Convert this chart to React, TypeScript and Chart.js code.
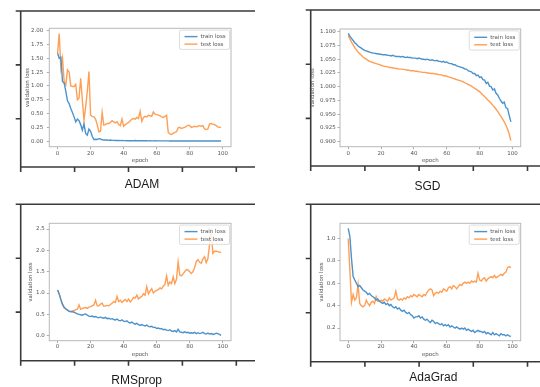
import React, { useEffect, useRef } from "react";
import { Chart, registerables } from "chart.js";

Chart.register(...registerables);

// ---------- data ----------
const epochs: number[] = Array.from({ length: 100 }, (_, i) => i);
const xTickValues = [0, 20, 40, 60, 80, 100];
const seriesLabels = ["train loss", "test loss"];

const adamTrain = [
  1.59, 1.5, 1.52, 1.08, 1.05, 0.9, 0.73, 0.68, 0.59, 0.52,
  0.44, 0.35, 0.4, 0.37, 0.3, 0.2, 0.31, 0.14, 0.11, 0.22,
  0.18, 0.09, 0.03, 0.035, 0.03, 0.045, 0.04, 0.025, 0.02, 0.02,
  0.02, 0.015, 0.02, 0.015, 0.015, 0.012, 0.012, 0.011, 0.01, 0.012,
  0.01, 0.01, 0.009, 0.01, 0.009, 0.008, 0.009, 0.012, 0.009, 0.008,
  0.008, 0.007, 0.008, 0.007, 0.007, 0.006, 0.007, 0.006, 0.006, 0.007,
  0.006, 0.005, 0.006, 0.005, 0.005, 0.005, 0.006, 0.005, 0.004, 0.005,
  0.004, 0.004, 0.005, 0.004, 0.004, 0.004, 0.003, 0.004, 0.003, 0.003,
  0.004, 0.003, 0.003, 0.003, 0.003, 0.003, 0.002, 0.003, 0.002, 0.003,
  0.002, 0.002, 0.003, 0.002, 0.002, 0.002, 0.002, 0.002, 0.002, 0.002,
];
const adamTest = [
  1.59, 1.95, 1.32, 1.5, 1.08, 1.02, 1.29, 1.25, 1.0, 0.99,
  0.99, 1.03, 0.75, 0.78, 1.14, 0.75, 0.38, 0.62, 0.9, 1.26,
  0.47, 0.45, 0.44, 0.4, 0.3, 0.17, 0.18, 0.52, 0.29, 0.3,
  0.32, 0.32, 0.34, 0.37, 0.35, 0.33, 0.35, 0.3, 0.28, 0.4,
  0.27, 0.3, 0.32, 0.34, 0.37, 0.4, 0.41, 0.4, 0.43, 0.41,
  0.54, 0.36, 0.43, 0.45, 0.44, 0.47, 0.46, 0.45, 0.53, 0.49,
  0.48, 0.47, 0.46, 0.44, 0.43, 0.45, 0.47, 0.16, 0.13, 0.12,
  0.14, 0.16, 0.17, 0.24, 0.25, 0.23, 0.24, 0.25, 0.27, 0.29,
  0.28, 0.25, 0.26, 0.27, 0.26, 0.27, 0.28, 0.27, 0.28, 0.22,
  0.21, 0.22, 0.31, 0.32, 0.31, 0.3, 0.28, 0.26, 0.25, 0.25,
];

const sgdTrain = [
  1.097, 1.092, 1.088, 1.084, 1.08, 1.077, 1.074, 1.072, 1.07, 1.068,
  1.066, 1.065, 1.064, 1.063, 1.062, 1.061, 1.061, 1.06, 1.06, 1.059,
  1.059, 1.058, 1.058, 1.058, 1.057, 1.057, 1.056, 1.057, 1.056, 1.055,
  1.055, 1.055, 1.054, 1.055, 1.054, 1.053, 1.054, 1.053, 1.053, 1.052,
  1.052, 1.052, 1.051, 1.052, 1.051, 1.05, 1.05, 1.049, 1.05, 1.049,
  1.048, 1.049, 1.048, 1.047, 1.048, 1.046, 1.046, 1.045, 1.046, 1.044,
  1.045, 1.043, 1.042, 1.042, 1.04, 1.04, 1.038, 1.037, 1.036, 1.035,
  1.034, 1.032, 1.032, 1.029, 1.028, 1.027, 1.024, 1.024, 1.02, 1.021,
  1.017, 1.018, 1.013, 1.012, 1.006, 1.008, 1.001, 1.0, 0.994, 0.996,
  0.988, 0.985, 0.979, 0.974, 0.97, 0.972, 0.962, 0.96, 0.948, 0.936,
];
const sgdTest = [
  1.093, 1.087, 1.081, 1.076, 1.071, 1.067, 1.063, 1.06, 1.057, 1.054,
  1.052, 1.05, 1.048, 1.046, 1.045, 1.044, 1.043, 1.042, 1.041, 1.04,
  1.039, 1.038, 1.037, 1.037, 1.036, 1.035, 1.035, 1.034, 1.034, 1.033,
  1.033, 1.032, 1.032, 1.032, 1.031, 1.031, 1.03, 1.03, 1.029, 1.029,
  1.029, 1.028, 1.028, 1.027, 1.027, 1.026, 1.026, 1.026, 1.025, 1.025,
  1.024, 1.024, 1.024, 1.023, 1.023, 1.022, 1.022, 1.021, 1.02, 1.02,
  1.019, 1.018, 1.017, 1.016, 1.015, 1.014, 1.013, 1.012, 1.011, 1.01,
  1.009, 1.007, 1.006, 1.004, 1.003, 1.001, 0.999, 0.997, 0.995, 0.993,
  0.991, 0.988, 0.985, 0.982, 0.979, 0.976, 0.973, 0.97, 0.966, 0.963,
  0.959, 0.955, 0.95, 0.946, 0.941, 0.936, 0.93, 0.923, 0.914, 0.902,
];

const rmsTrain = [
  1.07, 0.98, 0.85, 0.74, 0.67, 0.63, 0.6, 0.57, 0.56, 0.56,
  0.55, 0.53, 0.51, 0.5, 0.49, 0.48, 0.5, 0.51, 0.48, 0.46,
  0.45, 0.46, 0.44, 0.45, 0.43, 0.42, 0.44, 0.42, 0.41, 0.43,
  0.4, 0.41, 0.39, 0.4, 0.38, 0.37, 0.39, 0.36, 0.35, 0.37,
  0.34, 0.33, 0.35, 0.31, 0.3, 0.32, 0.29, 0.27, 0.29, 0.26,
  0.24, 0.26, 0.24, 0.23, 0.25, 0.22, 0.21, 0.22, 0.19, 0.2,
  0.17, 0.18, 0.16, 0.17, 0.14, 0.15, 0.13, 0.12, 0.14, 0.11,
  0.1, 0.12, 0.09, 0.15, 0.09, 0.08, 0.07, 0.09, 0.07, 0.08,
  0.06, 0.07, 0.06, 0.08, 0.05, 0.07, 0.05, 0.06, 0.08, 0.05,
  0.04, 0.06, 0.04, 0.05, 0.03, 0.04, 0.06, 0.05, 0.03, 0.01,
];
const rmsTest = [
  1.07, 0.97, 0.84, 0.72, 0.65, 0.62, 0.6, 0.58, 0.57, 0.58,
  0.59, 0.61, 0.62, 0.72, 0.62, 0.64, 0.65, 0.66, 0.64, 0.67,
  0.68, 0.7, 0.72, 0.83, 0.7, 0.7, 0.74, 0.76, 0.69, 0.7,
  0.71, 0.7, 0.73, 0.76, 0.8, 0.78, 0.92, 0.8, 0.83, 0.78,
  0.82, 0.85, 0.8, 0.86, 0.79, 0.84, 0.9, 0.88, 0.95, 0.86,
  0.9, 0.92, 0.98, 0.95, 1.15, 0.98, 1.05, 1.1, 1.0, 1.04,
  1.06, 1.08, 1.12, 1.1, 1.16, 1.2, 1.4, 1.18, 1.26, 1.22,
  1.38, 1.22, 1.32, 1.73, 1.42, 1.4, 1.45, 1.5, 1.55, 1.54,
  1.5, 1.46, 1.5, 1.6, 1.74, 1.78, 1.72, 1.7, 1.8, 1.85,
  1.71, 1.8, 2.13, 2.52, 1.93, 1.98, 1.98, 1.97, 1.96, 1.95,
];

const adaTrain = [
  1.09, 1.02, 0.82, 0.66, 0.63, 0.6, 0.57, 0.58, 0.56, 0.54,
  0.53, 0.52, 0.5, 0.51, 0.49, 0.48, 0.47, 0.45, 0.46, 0.44,
  0.43, 0.42, 0.43, 0.41, 0.42, 0.4, 0.41, 0.39, 0.38, 0.39,
  0.37, 0.38, 0.36, 0.35, 0.36, 0.34, 0.33, 0.34, 0.32, 0.31,
  0.29, 0.3, 0.3, 0.31, 0.29, 0.3, 0.28, 0.27, 0.28, 0.26,
  0.25, 0.27, 0.26, 0.24, 0.25, 0.24, 0.23, 0.24, 0.22, 0.23,
  0.22, 0.23, 0.21, 0.22, 0.21, 0.2, 0.21, 0.2, 0.19, 0.2,
  0.19, 0.2, 0.18, 0.19, 0.18, 0.17, 0.18, 0.16, 0.17, 0.18,
  0.17, 0.17, 0.16, 0.17, 0.15, 0.16, 0.15, 0.14, 0.16, 0.14,
  0.15, 0.14, 0.13, 0.15, 0.14, 0.14, 0.13, 0.14, 0.13, 0.125,
];
const adaTest = [
  1.0, 0.72, 0.43, 0.5, 0.45, 0.47, 0.59, 0.42, 0.4, 0.39,
  0.4, 0.45, 0.42, 0.4, 0.43, 0.44, 0.42, 0.48, 0.44, 0.44,
  0.45, 0.44, 0.46, 0.45, 0.44, 0.47, 0.45, 0.46, 0.47, 0.53,
  0.46, 0.45, 0.46, 0.45, 0.47, 0.46, 0.48, 0.47, 0.49, 0.48,
  0.5, 0.49, 0.48, 0.5, 0.49, 0.48, 0.5, 0.49, 0.52, 0.54,
  0.55, 0.54, 0.49, 0.51, 0.52, 0.51, 0.53, 0.52, 0.55, 0.54,
  0.53, 0.56, 0.57, 0.55, 0.58, 0.57, 0.55, 0.57, 0.59, 0.58,
  0.6, 0.61, 0.6, 0.61, 0.6, 0.62, 0.61, 0.62, 0.61, 0.69,
  0.63, 0.62, 0.64, 0.65, 0.62, 0.64, 0.65, 0.66, 0.65, 0.67,
  0.65, 0.66, 0.67, 0.68, 0.67, 0.69, 0.7, 0.74, 0.75, 0.74,
];

const adamYTicks = [0, 0.25, 0.5, 0.75, 1.0, 1.25, 1.5, 1.75, 2.0];
const sgdYTicks = [0.9, 0.925, 0.95, 0.975, 1.0, 1.025, 1.05, 1.075, 1.1];
const rmsYTicks = [0, 0.5, 1.0, 1.5, 2.0, 2.5];
const adaYTicks = [0.2, 0.4, 0.6, 0.8, 1.0];

// ---------- styles / layout ----------
const BLUE = "#4c93cc";
const ORANGE = "#ff9f55";
const LINE_W = 1.4;
const SMALL_FONT = 5.5;
const FONT_FAMILY = '"DejaVu Sans", sans-serif';
const TEXT_GRAY = "#555";

type Panel = {
  name: string;
  train: number[];
  test: number[];
  yTicks: number[];
  yDec: number;
  yMin: number;
  yMax: number;
  canvas: { left: number; top: number; width: number; height: number };
  plot: { left: number; top: number; right: number; bottom: number };
  yTitleX: number;
  xTitleY: number;
  yTickPad: number;
  xTickPad: number;
  frame: { left: number; top: number; bottom: number; right: number; step: number };
  caption: { cx: number; baseline: number };
};

const panels: Panel[] = [
  {
    name: "ADAM", train: adamTrain, test: adamTest, yTicks: adamYTicks, yDec: 2,
    yMin: -0.1, yMax: 2.043,
    canvas: { left: 0, top: 0, width: 270, height: 193 },
    plot: { left: 49.3, top: 28.3, right: 231, bottom: 146.7 },
    yTitleX: 27.8, xTitleY: 160.8, yTickPad: 3.5, xTickPad: 1.3,
    frame: { left: 20.7, top: 11, bottom: 167, right: 255, step: 53.9 },
    caption: { cx: 142, baseline: 188.5 },
  },
  {
    name: "SGD", train: sgdTrain, test: sgdTest, yTicks: sgdYTicks, yDec: 3,
    yMin: 0.8909, yMax: 1.1049,
    canvas: { left: 270, top: 0, width: 270, height: 193 },
    plot: { left: 340, top: 29, right: 520.7, bottom: 146.7 },
    yTitleX: 312.3, xTitleY: 160.7, yTickPad: 1.8, xTickPad: 0.8,
    frame: { left: 310.7, top: 10, bottom: 166, right: 540, step: 54.2 },
    caption: { cx: 427.5, baseline: 190 },
  },
  {
    name: "RMSprop", train: rmsTrain, test: rmsTest, yTicks: rmsYTicks, yDec: 1,
    yMin: -0.117, yMax: 2.634,
    canvas: { left: 0, top: 193, width: 270, height: 194 },
    plot: { left: 49.3, top: 223.3, right: 231, bottom: 340.7 },
    yTitleX: 30.5, xTitleY: 355, yTickPad: 2, xTickPad: 0.4,
    frame: { left: 20.7, top: 204.3, bottom: 360.7, right: 255, step: 53.9 },
    caption: { cx: 136.7, baseline: 384 },
  },
  {
    name: "AdaGrad", train: adaTrain, test: adaTest, yTicks: adaYTicks, yDec: 1,
    yMin: 0.0872, yMax: 1.136,
    canvas: { left: 270, top: 193, width: 270, height: 194 },
    plot: { left: 340, top: 223.3, right: 520.7, bottom: 340.7 },
    yTitleX: 321.5, xTitleY: 355, yTickPad: 2, xTickPad: 0.4,
    frame: { left: 310.7, top: 204.3, bottom: 361.7, right: 540, step: 54.2 },
    caption: { cx: 433.3, baseline: 380.7 },
  },
];

const TICK_LEN = 2.5;

function PanelChart({ p }: { p: Panel }) {
  const ref = useRef<HTMLCanvasElement | null>(null);

  useEffect(() => {
    const canvas = ref.current;
    if (!canvas) return;
    const cv = p.canvas;
    const half = (SMALL_FONT * 1.2) / 2;
    const yW = p.plot.left - p.yTitleX + half;
    const xH = p.xTitleY - p.plot.bottom + half;

    const framePlugin = {
      id: "outerFrame",
      beforeDraw(chart: any) {
        const ctx = chart.ctx;
        const f = p.frame;
        const ox = cv.left;
        const oy = cv.top;
        ctx.save();
        ctx.strokeStyle = "#3a3a3a";
        ctx.lineWidth = 1.6;
        ctx.beginPath();
        ctx.moveTo(f.left - 5 - ox, f.top - oy);
        ctx.lineTo(f.right - ox, f.top - oy);
        ctx.moveTo(f.left - ox, f.top - oy);
        ctx.lineTo(f.left - ox, f.bottom - oy);
        ctx.moveTo(f.left - ox, f.bottom - oy);
        ctx.lineTo(f.right - ox, f.bottom - oy);
        for (let i = 0; i < 5; i++) {
          const x = f.left + i * f.step - ox;
          ctx.moveTo(x, f.bottom - oy);
          ctx.lineTo(x, f.bottom + 5 - oy);
        }
        for (let i = 1; i < 3; i++) {
          const y = f.top + i * f.step - oy;
          ctx.moveTo(f.left - 5 - ox, y);
          ctx.lineTo(f.left - ox, y);
        }
        ctx.stroke();
        ctx.restore();
      },
    };

    const boxPlugin = {
      id: "axesBox",
      afterDatasetsDraw(chart: any) {
        const { ctx, chartArea: a } = chart;
        ctx.save();
        ctx.strokeStyle = "#b8b8b8";
        ctx.lineWidth = 1;
        ctx.strokeRect(a.left, a.top, a.right - a.left, a.bottom - a.top);
        ctx.restore();
      },
    };

    const legendPlugin = {
      id: "mplLegend",
      afterDraw(chart: any) {
        const { ctx, chartArea: a } = chart;
        const w = 50;
        const h = 19.3;
        const x = a.right - 1.5 - w;
        const y = a.top + 1.8;
        ctx.save();
        ctx.fillStyle = "rgba(255,255,255,0.85)";
        ctx.strokeStyle = "#d4d4d4";
        ctx.lineWidth = 0.8;
        ctx.beginPath();
        if (ctx.roundRect) ctx.roundRect(x, y, w, h, 1.5);
        else ctx.rect(x, y, w, h);
        ctx.fill();
        ctx.stroke();
        chart.data.datasets.forEach((ds: any, i: number) => {
          const ry = y + 6.5 + i * 7.5;
          ctx.strokeStyle = ds.borderColor;
          ctx.lineWidth = LINE_W;
          ctx.beginPath();
          ctx.moveTo(x + 5, ry);
          ctx.lineTo(x + 18, ry);
          ctx.stroke();
          ctx.fillStyle = TEXT_GRAY;
          ctx.font = `5.5px ${FONT_FAMILY}`;
          ctx.textBaseline = "middle";
          ctx.textAlign = "left";
          ctx.fillText(ds.label, x + 21, ry);
        });
        ctx.restore();
      },
    };

    const smallFont = { size: SMALL_FONT, family: FONT_FAMILY, lineHeight: 1.2 };

    const chart = new Chart(canvas, {
      type: "line",
      data: {
        labels: epochs,
        datasets: [
          { label: seriesLabels[0], data: p.train, borderColor: BLUE, backgroundColor: BLUE, borderWidth: LINE_W, pointRadius: 0, tension: 0, fill: false },
          { label: seriesLabels[1], data: p.test, borderColor: ORANGE, backgroundColor: ORANGE, borderWidth: LINE_W, pointRadius: 0, tension: 0, fill: false },
        ],
      },
      options: {
        responsive: false,
        animation: false,
        events: [],
        layout: {
          padding: {
            left: p.plot.left - cv.left - yW,
            top: p.plot.top - cv.top,
            right: cv.left + cv.width - p.plot.right,
            bottom: cv.top + cv.height - p.plot.bottom - xH,
          },
        },
        plugins: { legend: { display: false }, tooltip: { enabled: false }, title: { display: false } },
        scales: {
          x: {
            type: "linear",
            min: -5,
            max: 105,
            afterBuildTicks: (axis: any) => {
              axis.ticks = xTickValues.map((v) => ({ value: v }));
            },
            afterFit: (s: any) => {
              s.height = xH;
              s.paddingLeft = 0;
              s.paddingRight = 0;
            },
            grid: { drawOnChartArea: false, drawTicks: true, tickLength: TICK_LEN, color: "#999", lineWidth: 0.8 },
            border: { display: false },
            ticks: {
              font: smallFont, color: TEXT_GRAY, padding: p.xTickPad, maxRotation: 0, autoSkip: false,
              callback: (v: any) => String(v),
            },
            title: { display: true, text: "epoch", font: smallFont, color: TEXT_GRAY, padding: { top: 0, bottom: 0 } },
          },
          y: {
            type: "linear",
            min: p.yMin,
            max: p.yMax,
            afterBuildTicks: (axis: any) => {
              axis.ticks = p.yTicks.map((v) => ({ value: v }));
            },
            afterFit: (s: any) => {
              s.width = yW;
              s.paddingTop = 0;
              s.paddingBottom = 0;
            },
            grid: { drawOnChartArea: false, drawTicks: true, tickLength: TICK_LEN, color: "#999", lineWidth: 0.8 },
            border: { display: false },
            ticks: {
              font: smallFont, color: TEXT_GRAY, padding: p.yTickPad, autoSkip: false,
              callback: (v: any) => Number(v).toFixed(p.yDec),
            },
            title: { display: true, text: "validation loss", font: smallFont, color: TEXT_GRAY, padding: { top: 0, bottom: 0 } },
          },
        },
      } as any,
      plugins: [framePlugin, boxPlugin, legendPlugin],
    });
    return () => chart.destroy();
  }, [p]);

  return (
    <canvas
      ref={ref}
      width={p.canvas.width}
      height={p.canvas.height}
      style={{ position: "absolute", left: p.canvas.left, top: p.canvas.top, width: p.canvas.width, height: p.canvas.height }}
    />
  );
}

export default function App() {
  return (
    <div style={{ position: "absolute", left: 0, top: 0, width: 540, height: 387, background: "#fff", overflow: "hidden" }}>
      {panels.map((p) => (
        <PanelChart key={p.name} p={p} />
      ))}
      {panels.map((p) => (
        <div
          key={p.name + "-caption"}
          style={{
            position: "absolute",
            left: p.caption.cx - 60,
            width: 120,
            top: p.caption.baseline - 10.2,
            height: 12,
            lineHeight: "12px",
            textAlign: "center",
            fontFamily: '"Liberation Sans", Arial, sans-serif',
            fontSize: 12,
            color: "#1a1a1a",
            whiteSpace: "nowrap",
          }}
        >
          {p.name}
        </div>
      ))}
    </div>
  );
}
